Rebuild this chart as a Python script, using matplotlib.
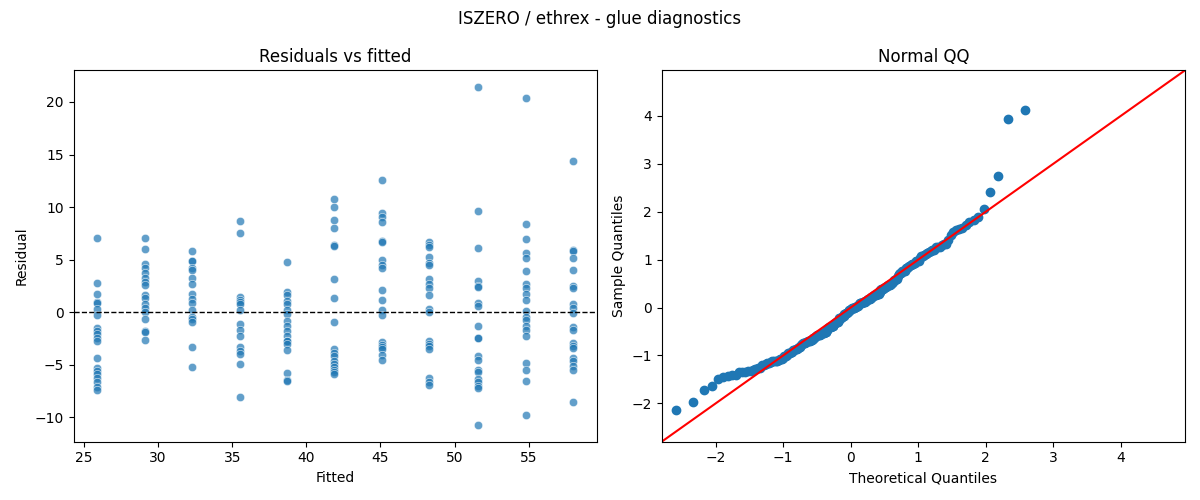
import numpy as np
import matplotlib
matplotlib.use("Agg")
import matplotlib.pyplot as plt
import seaborn as sns
from statistics import NormalDist

fitted_levels = [25.9, 29.1, 32.3, 35.5, 38.7, 41.9, 45.1, 48.3, 51.6, 54.8, 58.0]
residual_groups = [
    [7.1, 2.8, 1.7, 1.0, 0.9, 0.3, -0.3, -1.5, -1.8, -2.1, -2.4, -2.7, -4.3, -5.3, -5.6, -5.9, -6.2, -6.6, -7.1, -7.4],
    [7.1, 6.0, 4.6, 4.2, 3.7, 3.3, 2.9, 2.6, 1.6, 1.4, 0.8, 0.4, 0.0, -0.6, -1.8, -1.9, -2.6],
    [5.8, 4.9, 4.9, 4.2, 4.0, 3.3, 2.7, 1.7, 1.3, 0.9, 0.2, -0.4, -0.6, -0.9, -3.3, -5.2],
    [8.7, 7.5, 1.5, 1.2, 1.0, 0.8, 0.2, -1.1, -1.7, -2.3, -3.3, -3.7, -4.0, -4.9, -8.1],
    [4.8, 1.9, 1.6, 1.1, 0.8, 0.2, -0.2, -0.8, -1.3, -1.8, -2.3, -2.7, -2.7, -3.0, -3.6, -5.8, -6.4, -6.5],
    [10.8, 10.0, 8.8, 8.0, 6.4, 6.3, 3.2, 1.4, -0.9, -3.5, -3.9, -4.2, -4.6, -4.9, -5.2, -5.5, -5.7, -5.9],
    [12.6, 9.4, 9.1, 8.6, 6.8, 6.7, 5.0, 4.5, 4.2, 2.1, 1.2, 0.2, -0.3, -2.8, -3.1, -3.3, -3.5, -4.1, -4.5],
    [6.7, 6.4, 6.2, 5.3, 4.7, 4.5, 3.2, 2.7, 2.3, 1.6, 0.3, 0.0, -2.7, -3.0, -3.2, -3.5, -6.2, -6.6, -6.9],
    [21.4, 9.6, 6.1, 3.0, 2.5, 2.4, 0.9, 0.6, -1.3, -2.4, -2.4, -4.2, -4.5, -5.5, -5.7, -6.3, -6.6, -7.0, -7.2, -10.7],
    [20.4, 8.4, 7.0, 5.6, 5.2, 3.9, 2.7, 2.3, 1.7, 1.2, 0.1, -0.4, -0.7, -1.3, -1.7, -2.3, -4.8, -5.5, -6.5, -9.8],
    [14.4, 5.9, 5.8, 5.2, 4.0, 2.5, 2.3, 0.8, 0.4, -0.1, -1.4, -1.7, -2.9, -3.2, -3.4, -4.3, -4.6, -5.1, -5.5, -8.5],
]

fitted = np.concatenate([[f] * len(g) for f, g in zip(fitted_levels, residual_groups)])
resid = np.concatenate([np.array(g, float) for g in residual_groups])

fig, (ax1, ax2) = plt.subplots(1, 2, figsize=(12, 5), dpi=100)
sns.scatterplot(x=fitted, y=resid, ax=ax1, alpha=0.7)
ax1.axhline(0, color="black", ls="--", lw=1)
ax1.set_xlabel("Fitted")
ax1.set_ylabel("Residual")
ax1.set_title("Residuals vs fitted")

# Normal QQ
n = len(resid)
sample = np.sort((resid - resid.mean()) / resid.std(ddof=1))
probs = (np.arange(1, n + 1)) / (n + 1)
nd = NormalDist()
theo = np.array([nd.inv_cdf(p) for p in probs])
ax2.plot(theo, sample, "o", color="#1f77b4", ms=6)
lo, hi = -2.8, 4.95
ax2.plot([lo, hi], [lo, hi], color="red")
ax2.set_xlim(lo, hi)
ax2.set_ylim(lo, hi)
ax2.set_xlabel("Theoretical Quantiles")
ax2.set_ylabel("Sample Quantiles")
ax2.set_title("Normal QQ")

fig.suptitle("ISZERO / ethrex - glue diagnostics")
fig.tight_layout()
fig.savefig("out.png")
